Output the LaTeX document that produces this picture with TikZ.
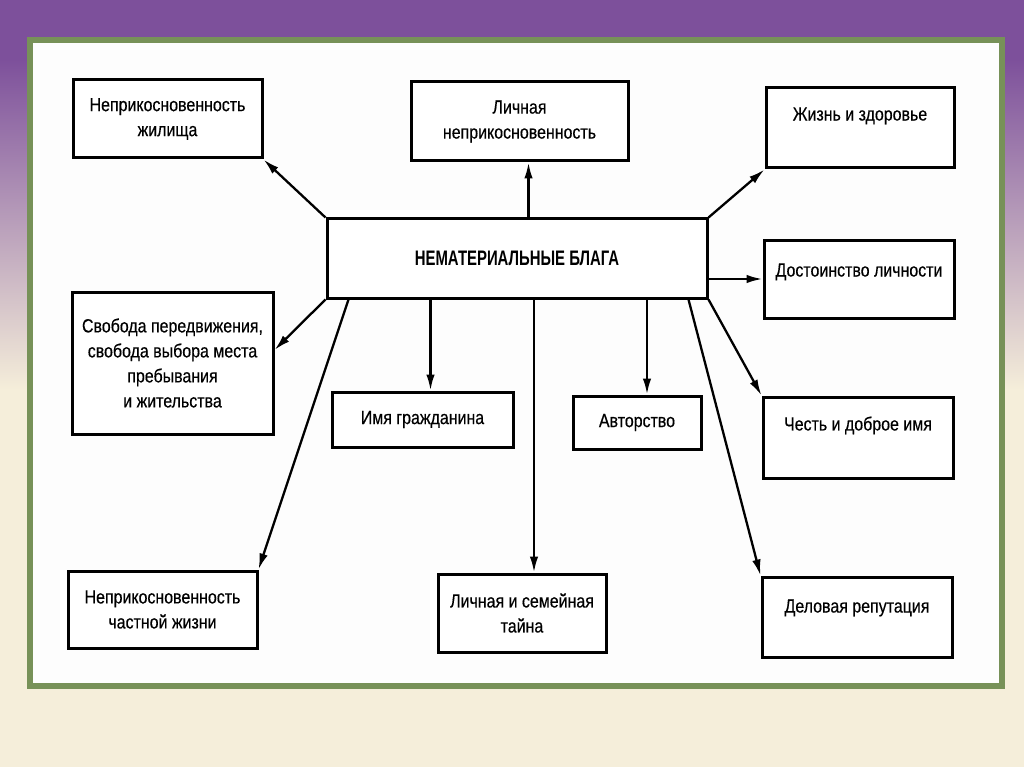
\documentclass[tikz,border=0pt]{standalone}
\usepackage{fontspec}
\setmainfont{Liberation Sans}[FakeStretch=0.84, FakeBold=0.4]
\newfontfamily\titlefont{Liberation Sans}[FakeStretch=0.71]
\usetikzlibrary{arrows.meta}

\definecolor{slidetop}{RGB}{125,80,155}
\definecolor{slidemid}{RGB}{190,155,188}
\definecolor{slidebottom}{RGB}{245,238,218}
\definecolor{framegreen}{RGB}{119,145,88}
\definecolor{panelwhite}{RGB}{253,253,253}
\newcommand{\good}[7][]{%
  \node[goodbox, #1, minimum width=#5pt, minimum height=#6pt] (#2) at (#3+#5/2, #4+#6/2) {#7};
}

\begin{document}
\begin{tikzpicture}[x=1pt, y=-1pt,
    goodbox/.style={draw=black, line width=3pt, fill=white, align=center,
      font=\fontsize{19}{25}\selectfont, inner sep=2pt},
    arr/.style={-{Latex[length=16pt,width=8.5pt]}, line width=2.3pt}]
    \useasboundingbox (0,0) rectangle (1024,767);
    % Background
    \fill[slidebottom] (0,0) rectangle (1024,767);
    \fill[slidetop] (0,0) rectangle (1024,60);
    \shade[top color=slidetop, middle color=slidemid, bottom color=slidebottom] (0,59) rectangle (1024,390);
    % Frame
    \filldraw[fill=panelwhite, draw=framegreen, line width=6pt] (30,40) rectangle (1002,686);
    % Boxes ([text depth], name, x, y, width, height, text)
    \good{centre}{327}{219}{380}{79}{\titlefont\fontsize{21}{25}\selectfont\bfseries НЕМАТЕРИАЛЬНЫЕ БЛАГА}
    \good{zhil}{73}{80}{189}{78}{Неприкосновенность\\жилища}
    \good{lichn}{411}{82}{217}{79}{Личная\\неприкосновенность}
    \good[text depth=28pt]{zhizn}{766}{88}{188}{80}{Жизнь и здоровье}
    \good[text depth=18pt]{dost}{764}{240}{190}{78}{Достоинство личности}
    \good{svob}{72}{292}{201}{142}{Свобода передвижения,\\свобода выбора места\\пребывания\\и жительства}
    \good{imya}{332}{392}{181}{55}{Имя гражданина}
    \good{avtor}{573}{396}{128}{53}{Авторство}
    \good[text depth=28pt]{chest}{763}{397}{190}{81}{Честь и доброе имя}
    \good[text depth=22pt]{delo}{762}{577}{190}{80}{Деловая репутация}
    \good{chastn}{68}{571}{189}{77}{Неприкосновенность\\частной жизни}
    \good{tayna}{438}{574}{168}{78}{Личная и семейная\\тайна}
    % Arrows from the centre
    \draw[arr] (centre.north west) -- (zhil.south east);
    \draw[arr] ([xshift=9pt]lichn.south |- centre.north) -- ([xshift=9pt]lichn.south);
    \draw[arr] (centre.north east) -- (zhizn.south west);
    \draw[arr] (centre.east |- dost.west) -- (dost.west);
    \draw[arr] (centre.south west) -- ([yshift=13pt]svob.east);
    \draw[arr] ([xshift=23pt]centre.south west) -- (chastn.north east);
    \draw[arr] ([xshift=8pt]imya.north |- centre.south) -- ([xshift=8pt]imya.north);
    \draw[arr] ([xshift=12pt]tayna.north |- centre.south) -- ([xshift=12pt]tayna.north);
    \draw[arr] ([xshift=10pt]avtor.north |- centre.south) -- ([xshift=10pt]avtor.north);
    \draw[arr] ([xshift=-20pt]centre.south east) -- (delo.north west);
    \draw[arr] (centre.south east) -- (chest.north west);
\end{tikzpicture}
\end{document}
